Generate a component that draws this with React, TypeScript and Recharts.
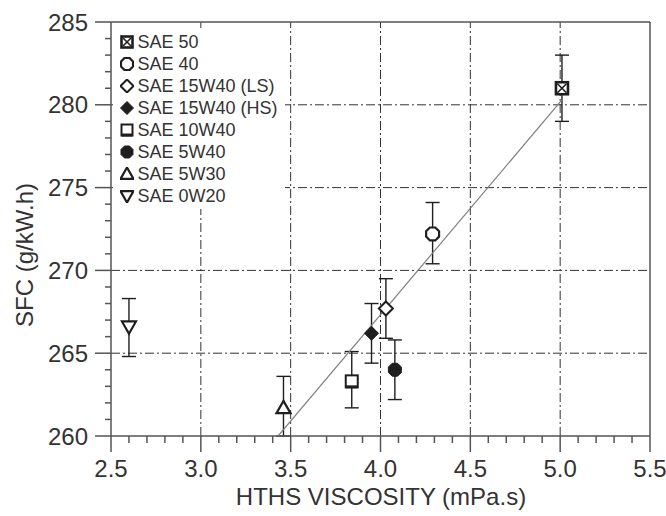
import { ScatterChart, Scatter, XAxis, YAxis, ErrorBar, ReferenceLine, Legend } from "recharts";

const oils = ["SAE 50", "SAE 40", "SAE 15W40 (LS)", "SAE 15W40 (HS)", "SAE 10W40", "SAE 5W40", "SAE 5W30", "SAE 0W20"];
const markers = ["sqx", "oct", "dia", "diaF", "sq", "octF", "tri", "triD"];
const viscosity = [5.01, 4.29, 4.03, 3.95, 3.84, 4.08, 3.46, 2.6];
const sfc = [281.0, 272.2, 267.7, 266.2, 263.3, 264.0, 261.7, 266.6];
const sfcLow = [279.0, 270.4, 265.9, 264.4, 261.7, 262.2, 260.0, 264.8];
const sfcHigh = [283.0, 274.1, 269.5, 268.0, 265.1, 265.8, 263.6, 268.3];

// linear fit drawn through the points
const fitX = [3.43, 5.01];
const fitY = [260.0, 280.3];

const xMajor = [2.5, 3.0, 3.5, 4.0, 4.5, 5.0, 5.5];
const xTicks = [2.5, 2.6, 2.7, 2.8, 2.9, 3.0, 3.1, 3.2, 3.3, 3.4, 3.5, 3.6, 3.7, 3.8, 3.9, 4.0, 4.1, 4.2, 4.3, 4.4, 4.5, 4.6, 4.7, 4.8, 4.9, 5.0, 5.1, 5.2, 5.3, 5.4, 5.5];
const yMajor = [260, 265, 270, 275, 280, 285];
const yTicks = [260, 261, 262, 263, 264, 265, 266, 267, 268, 269, 270, 271, 272, 273, 274, 275, 276, 277, 278, 279, 280, 281, 282, 283, 284, 285];
const xGrid = [3.0, 3.5, 4.0, 4.5, 5.0];
const yGrid = [265, 270, 275, 280];

const font = "'Liberation Sans', Arial, sans-serif";
const ink = "#1e1e1e";
const textCol = "#333";
const axisCol = "#555";

function Marker({ kind, cx, cy, s = 14 }: { kind: string; cx: number; cy: number; s?: number }) {
  const h = s / 2;
  const oct = [0, 1, 2, 3, 4, 5, 6, 7]
    .map((k) => {
      const a = ((22.5 + k * 45) * Math.PI) / 180;
      return `${cx + h * Math.cos(a)},${cy + h * Math.sin(a)}`;
    })
    .join(" ");
  switch (kind) {
    case "sqx":
      return (
        <g>
          <rect x={cx - h + 1} y={cy - h + 1} width={s - 2} height={s - 2} fill="#fff" stroke={ink} strokeWidth={2.6} />
          <line x1={cx - h + 2.5} y1={cy - h + 2.5} x2={cx + h - 2.5} y2={cy + h - 2.5} stroke={ink} strokeWidth={1.6} />
          <line x1={cx + h - 2.5} y1={cy - h + 2.5} x2={cx - h + 2.5} y2={cy + h - 2.5} stroke={ink} strokeWidth={1.6} />
        </g>
      );
    case "oct":
      return <polygon points={oct} fill="#fff" stroke={ink} strokeWidth={2.2} />;
    case "octF":
      return <polygon points={oct} fill={ink} stroke={ink} strokeWidth={1} />;
    case "dia":
      return <polygon points={`${cx},${cy - h} ${cx + h},${cy} ${cx},${cy + h} ${cx - h},${cy}`} fill="#fff" stroke={ink} strokeWidth={2} />;
    case "diaF":
      return <polygon points={`${cx},${cy - h} ${cx + h},${cy} ${cx},${cy + h} ${cx - h},${cy}`} fill={ink} stroke={ink} strokeWidth={1} />;
    case "sq":
      return (
        <g>
          <rect x={cx - h + 1} y={cy - h + 1} width={s - 2} height={s - 2} fill="#fff" stroke={ink} strokeWidth={2} />
          <line x1={cx - h + 1} y1={cy + h - 1.5} x2={cx + h - 1} y2={cy + h - 1.5} stroke={ink} strokeWidth={3} />
        </g>
      );
    case "tri":
      return <polygon points={`${cx},${cy - h} ${cx + h},${cy + h * 0.75} ${cx - h},${cy + h * 0.75}`} fill="#fff" stroke={ink} strokeWidth={2.2} />;
    case "triD":
      return <polygon points={`${cx},${cy + h} ${cx + h},${cy - h * 0.75} ${cx - h},${cy - h * 0.75}`} fill="#fff" stroke={ink} strokeWidth={2.2} />;
    default:
      return <g />;
  }
}

function XTick({ x, y, payload }: any) {
  const v = payload.value;
  const major = xMajor.includes(v);
  return (
    <g>
      <line x1={x} x2={x} y1={y} y2={y + (major ? 16 : 7)} stroke={axisCol} strokeWidth={1.5} />
      {major && (
        <text x={x} y={y + 41} textAnchor="middle" fontFamily={font} fontSize={24} fill={textCol}>
          {v.toFixed(1)}
        </text>
      )}
    </g>
  );
}

function YTick({ x, y, payload }: any) {
  const v = payload.value;
  const major = yMajor.includes(v);
  return (
    <g>
      <line x1={x} x2={x - (major ? 16 : 6)} y1={y} y2={y} stroke={axisCol} strokeWidth={1.5} />
      {major && (
        <text x={x - 23} y={y + 8.5} textAnchor="end" fontFamily={font} fontSize={24} fill={textCol}>
          {v}
        </text>
      )}
    </g>
  );
}

function LegendBox() {
  return (
    <div
      style={{
        fontFamily: font,
        fontSize: 18,
        color: textCol,
        lineHeight: "22.1px",
        background: "#fff",
        width: 165,
        height: 178,
        padding: "1.6px 0 0 7px",
      }}
    >
      {oils.map((name, i) => (
        <div key={name} style={{ display: "flex", alignItems: "center", height: 22.1, whiteSpace: "nowrap" }}>
          <svg width={14} height={14} style={{ marginRight: 3.5 }}>
            <Marker kind={markers[i]} cx={7} cy={7} s={13} />
          </svg>
          <span>{name}</span>
        </div>
      ))}
    </div>
  );
}

export default function App() {
  const fitData = fitX.map((x, i) => ({ x, y: fitY[i] }));
  return (
    <div>
      <style>{`body{margin:0;background:#fff}`}</style>
      <ScatterChart width={666} height={516} margin={{ top: 22, right: 16, bottom: 0, left: 51 }}>
        <XAxis
          type="number"
          dataKey="x"
          domain={[2.5, 5.5]}
          ticks={xTicks}
          interval={0}
          allowDataOverflow
          height={80}
          tickSize={0}
          tickMargin={0}
          tickLine={false}
          tick={<XTick />}
          axisLine={{ stroke: axisCol, strokeWidth: 1.5 }}
          label={{
            content: () => (
              <text x={381} y={505} textAnchor="middle" fontFamily={font} fontSize={24} fill={textCol}>
                HTHS VISCOSITY (mPa.s)
              </text>
            ),
          }}
        />
        <YAxis
          type="number"
          dataKey="y"
          domain={[260, 285]}
          ticks={yTicks}
          interval={0}
          allowDataOverflow
          width={60}
          tickSize={0}
          tickMargin={0}
          tickLine={false}
          tick={<YTick />}
          axisLine={{ stroke: axisCol, strokeWidth: 1.5 }}
          label={{
            content: () => (
              <text x={33} y={255} transform="rotate(-90 33 255)" textAnchor="middle" fontFamily={font} fontSize={24} fill={textCol}>
                SFC (g/kW.h)
              </text>
            ),
          }}
        />
        {xGrid.map((v) => (
          <ReferenceLine key={"gx" + v} x={v} stroke="#333" strokeWidth={1} strokeDasharray="9 3 2 3" />
        ))}
        {yGrid.map((v) => (
          <ReferenceLine key={"gy" + v} y={v} stroke="#333" strokeWidth={1} strokeDasharray="9 3 2 3" />
        ))}
        <ReferenceLine y={285} stroke={axisCol} strokeWidth={1.5} />
        <ReferenceLine x={5.5} stroke={axisCol} strokeWidth={1.5} />
        <Scatter data={fitData} line={{ stroke: "#808080", strokeWidth: 1.2 }} shape={() => <g />} isAnimationActive={false} legendType="none" />
        {oils.map((name, i) => (
          <Scatter
            key={name}
            name={name}
            data={[{ x: viscosity[i], y: sfc[i], err: [sfc[i] - sfcLow[i], sfcHigh[i] - sfc[i]] }]}
            shape={(p: any) => <Marker kind={markers[i]} cx={p.cx} cy={p.cy} s={14} />}
            isAnimationActive={false}
          >
            <ErrorBar dataKey="err" direction="y" width={7} stroke={ink} strokeWidth={1.4} isAnimationActive={false} />
          </Scatter>
        ))}
        <Legend
          layout="vertical"
          align="center"
          verticalAlign="middle"
          wrapperStyle={{ top: 29, left: 113, width: 172 }}
          content={() => <LegendBox />}
        />
      </ScatterChart>
    </div>
  );
}
